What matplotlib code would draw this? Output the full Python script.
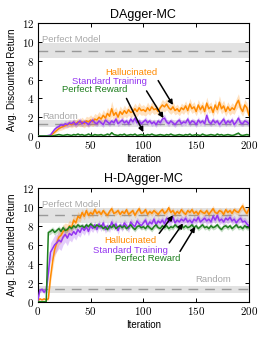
import numpy as np
import matplotlib
matplotlib.use("Agg")
import matplotlib.pyplot as plt
from matplotlib.ticker import FuncFormatter, MultipleLocator

plt.rcParams['font.family'] = ['Liberation Sans', 'DejaVu Sans']
plt.rcParams['mathtext.fontset'] = 'cm'

# iterations, sampled every 2
iters = np.arange(0, 201, 2)

# ---- DAgger-MC (top) ----
hal_top = [0, 0, 0, 0, 0, 0, 0.05, 0.2, 0.4, 0.6,
           0.8, 0.9, 1.0, 1.1, 1.2, 1.3, 1.2, 1.4, 1.3, 1.5,
           1.4, 1.5, 1.3, 1.6, 1.5, 1.7, 1.5, 1.8, 1.7, 2.0,
           1.8, 2.2, 1.9, 2.4, 2.1, 2.9, 2.2, 2.5, 2.0, 2.6,
           2.3, 2.7, 2.4, 2.8, 2.5, 2.6, 2.9, 2.6, 3.0, 2.7,
           2.8, 2.6, 3.0, 2.7, 3.1, 2.8, 2.9, 2.6, 3.0, 3.3,
           3.1, 3.4, 3.0, 2.8, 3.1, 2.7, 2.9, 2.6, 3.0, 2.8,
           3.2, 2.7, 3.4, 2.9, 3.1, 2.6, 3.3, 2.8, 3.2, 2.6,
           3.5, 2.9, 3.1, 2.5, 3.3, 2.8, 3.6, 2.9, 3.2, 2.6,
           3.1, 2.7, 3.0, 2.8, 3.4, 3.8, 3.0, 2.6, 3.3, 3.0,
           2.2]
hal_top_sd = [0, 0, 0, 0, 0, 0, 0.05, 0.1, 0.15, 0.2,
              0.25, 0.3, 0.3, 0.3, 0.35, 0.35, 0.35, 0.4, 0.4, 0.4,
              0.4, 0.5, 0.45, 0.5, 0.5, 0.55, 0.5, 0.6, 0.55, 0.6,
              0.5, 0.6, 0.55, 0.65, 0.6, 0.8, 0.6, 0.6, 0.55, 0.6,
              0.55, 0.6, 0.5, 0.6, 0.55, 0.5, 0.6, 0.55, 0.6, 0.5,
              0.55, 0.5, 0.6, 0.5, 0.55, 0.5, 0.5, 0.45, 0.5, 0.6,
              0.55, 0.6, 0.5, 0.5, 0.55, 0.45, 0.5, 0.45, 0.5, 0.5,
              0.55, 0.5, 0.6, 0.5, 0.55, 0.45, 0.6, 0.5, 0.55, 0.5,
              0.65, 0.5, 0.55, 0.45, 0.6, 0.5, 0.7, 0.55, 0.6, 0.5,
              0.55, 0.5, 0.55, 0.5, 0.6, 0.7, 0.55, 0.5, 0.6, 0.55,
              0.5]
std_top = [0, 0, 0, 0, 0, 0.05, 0.1, 0.4, 0.7, 0.9,
           1.0, 1.2, 1.1, 1.3, 1.2, 1.4, 1.3, 1.5, 1.2, 1.4,
           1.6, 1.3, 1.5, 1.4, 1.2, 1.5, 1.7, 1.4, 1.3, 1.6,
           1.4, 1.2, 1.7, 1.5, 1.3, 1.6, 1.4, 1.8, 1.3, 1.5,
           1.7, 1.4, 1.6, 1.3, 1.8, 1.5, 1.9, 1.4, 1.6, 1.3,
           1.5, 1.7, 1.4, 1.6, 1.3, 1.5, 1.2, 1.6, 1.4, 1.8,
           1.9, 1.5, 1.3, 1.6, 1.4, 1.2, 1.5, 1.7, 1.3, 1.5,
           1.4, 1.8, 1.3, 1.6, 1.5, 1.2, 1.7, 1.4, 1.6, 1.3,
           2.2, 1.5, 1.3, 1.7, 1.4, 1.6, 1.2, 1.5, 1.8, 1.3,
           1.6, 1.4, 1.7, 1.2, 1.5, 1.9, 1.4, 1.3, 1.6, 1.5,
           1.3]
std_top_sd = [0, 0, 0, 0, 0, 0.05, 0.1, 0.15, 0.2, 0.25,
              0.3, 0.3, 0.3, 0.35, 0.3, 0.35, 0.3, 0.35, 0.3, 0.3,
              0.35, 0.3, 0.3, 0.3, 0.3, 0.3, 0.35, 0.3, 0.3, 0.35,
              0.3, 0.3, 0.35, 0.3, 0.3, 0.3, 0.3, 0.35, 0.3, 0.3,
              0.35, 0.3, 0.3, 0.3, 0.35, 0.3, 0.4, 0.3, 0.3, 0.3,
              0.3, 0.35, 0.3, 0.3, 0.3, 0.3, 0.3, 0.3, 0.3, 0.35,
              0.4, 0.3, 0.3, 0.3, 0.3, 0.3, 0.3, 0.35, 0.3, 0.3,
              0.3, 0.35, 0.3, 0.3, 0.3, 0.3, 0.35, 0.3, 0.3, 0.3,
              0.45, 0.3, 0.3, 0.35, 0.3, 0.3, 0.3, 0.3, 0.35, 0.3,
              0.3, 0.3, 0.35, 0.3, 0.3, 0.4, 0.3, 0.3, 0.3, 0.3,
              0.3]
per_top = [0, 0, 0, 0, 0, 0, 0, 0, 0.05, 0.1,
           0.15, 0.1, 0.05, 0.1, 0.15, 0.1, 0.05, 0.15, 0.1, 0.2,
           0.1, 0.15, 0.05, 0.1, 0.2, 0.1, 0.05, 0.15, 0.1, 0.1,
           0.15, 0.05, 0.1, 0.2, 0.1, 0.35, 0.15, 0.1, 0.05, 0.15,
           0.1, 0.2, 0.05, 0.1, 0.15, 0.1, 0.2, 0.05, 0.1, 0.15,
           0.1, 0.05, 0.15, 0.1, 0.2, 0.1, 0.05, 0.1, 0.15, 0.1,
           0.05, 0.15, 0.1, 0.2, 0.1, 0.05, 0.1, 0.15, 0.1, 0.05,
           0.15, 0.1, 0.2, 0.05, 0.1, 0.15, 0.1, 0.05, 0.2, 0.1,
           0.05, 0.1, 0.15, 0.1, 0.05, 0.2, 0.1, 0.15, 0.05, 0.1,
           0.15, 0.1, 0.05, 0.1, 0.2, 0.3, 0.1, 0.05, 0.1, 0.15,
           0.1]
per_top_sd = [0, 0, 0, 0, 0, 0, 0, 0, 0.03, 0.05,
              0.08, 0.06, 0.05, 0.06, 0.08, 0.06, 0.05, 0.08, 0.06, 0.1,
              0.06, 0.08, 0.05, 0.06, 0.1, 0.06, 0.05, 0.08, 0.06, 0.06,
              0.08, 0.05, 0.06, 0.1, 0.06, 0.12, 0.08, 0.06, 0.05, 0.08,
              0.06, 0.1, 0.05, 0.06, 0.08, 0.06, 0.1, 0.05, 0.06, 0.08,
              0.06, 0.05, 0.08, 0.06, 0.1, 0.06, 0.05, 0.06, 0.08, 0.06,
              0.05, 0.08, 0.06, 0.1, 0.06, 0.05, 0.06, 0.08, 0.06, 0.05,
              0.08, 0.06, 0.1, 0.05, 0.06, 0.08, 0.06, 0.05, 0.1, 0.06,
              0.05, 0.06, 0.08, 0.06, 0.05, 0.1, 0.06, 0.08, 0.05, 0.06,
              0.08, 0.06, 0.05, 0.06, 0.1, 0.12, 0.06, 0.05, 0.06, 0.08,
              0.06]

# ---- H-DAgger-MC (bottom) ----
hal_bot = [0.1, 0.3, 0.2, 0.3, 0.2, 0.3, 2.5, 4.2, 5.5, 6.2,
           6.8, 7.0, 7.4, 7.6, 7.5, 8.0, 7.8, 8.6, 8.3, 9.0,
           8.8, 9.4, 9.0, 9.6, 9.1, 9.4, 9.2, 9.7, 9.3, 9.5,
           9.2, 9.6, 9.3, 9.1, 9.5, 9.8, 9.3, 9.4, 9.6, 9.2,
           9.5, 9.3, 9.7, 9.2, 9.4, 9.6, 9.1, 9.5, 9.8, 9.3,
           9.4, 9.7, 9.2, 9.5, 9.3, 9.6, 9.4, 9.2, 9.5, 9.7,
           9.3, 9.5, 9.9, 9.4, 9.6, 9.2, 9.5, 9.3, 9.7, 9.4,
           9.2, 9.6, 9.4, 9.7, 9.3, 9.5, 9.2, 9.6, 9.4, 9.3,
           9.6, 9.2, 9.5, 9.8, 9.4, 9.3, 9.6, 9.5, 9.2, 9.7,
           9.4, 9.6, 9.3, 9.7, 9.5, 9.4, 9.8, 10.1, 9.6, 9.3,
           9.8]
hal_bot_sd = [0.05, 0.1, 0.1, 0.1, 0.1, 0.15, 0.6, 0.8, 0.8, 0.8,
              0.8, 0.8, 0.7, 0.7, 0.7, 0.6, 0.6, 0.6, 0.5, 0.5,
              0.4, 0.4, 0.4, 0.4, 0.35, 0.35, 0.35, 0.35, 0.3, 0.3,
              0.3, 0.3, 0.3, 0.3, 0.3, 0.35, 0.3, 0.3, 0.3, 0.3,
              0.3, 0.3, 0.3, 0.3, 0.3, 0.3, 0.3, 0.3, 0.35, 0.3,
              0.3, 0.3, 0.3, 0.3, 0.3, 0.3, 0.3, 0.3, 0.3, 0.3,
              0.3, 0.3, 0.35, 0.3, 0.3, 0.3, 0.3, 0.3, 0.3, 0.3,
              0.3, 0.3, 0.3, 0.3, 0.3, 0.3, 0.3, 0.3, 0.3, 0.3,
              0.3, 0.3, 0.3, 0.35, 0.3, 0.3, 0.3, 0.3, 0.3, 0.3,
              0.3, 0.3, 0.3, 0.3, 0.3, 0.3, 0.35, 0.4, 0.3, 0.3,
              0.35]
std_bot = [0.1, 1.2, 1.3, 1.0, 1.3, 3.0, 5.2, 5.6, 6.0, 6.2,
           6.5, 6.3, 6.8, 7.1, 6.7, 7.2, 7.0, 7.4, 7.1, 7.6,
           7.3, 7.8, 7.5, 7.9, 7.4, 8.0, 7.7, 8.1, 7.6, 8.2,
           7.8, 8.3, 7.6, 8.0, 7.7, 8.4, 7.9, 8.2, 7.5, 8.1,
           7.8, 8.3, 8.0, 7.7, 8.4, 8.1, 7.9, 8.5, 8.2, 8.0,
           8.3, 8.6, 8.0, 8.4, 8.2, 8.7, 8.1, 8.5, 8.3, 8.6,
           8.2, 8.8, 8.4, 8.5, 8.9, 8.3, 8.6, 8.4, 8.7, 8.5,
           8.8, 8.4, 8.6, 8.3, 8.7, 8.5, 8.9, 8.4, 8.6, 8.8,
           8.5, 8.7, 8.4, 9.0, 8.6, 9.1, 8.5, 8.7, 8.4, 8.8,
           8.6, 8.9, 8.5, 8.7, 8.3, 8.6, 8.8, 8.4, 8.5, 8.2,
           8.0]
std_bot_sd = [0.05, 0.2, 0.2, 0.2, 0.2, 0.8, 1.0, 1.0, 1.0, 0.9,
              0.9, 0.9, 0.8, 0.8, 0.8, 0.7, 0.7, 0.6, 0.6, 0.6,
              0.5, 0.5, 0.5, 0.45, 0.45, 0.45, 0.4, 0.4, 0.4, 0.4,
              0.4, 0.4, 0.4, 0.4, 0.4, 0.4, 0.4, 0.4, 0.4, 0.4,
              0.4, 0.4, 0.4, 0.4, 0.4, 0.4, 0.4, 0.4, 0.4, 0.4,
              0.4, 0.4, 0.4, 0.4, 0.4, 0.4, 0.4, 0.4, 0.4, 0.4,
              0.4, 0.4, 0.4, 0.4, 0.4, 0.4, 0.4, 0.4, 0.4, 0.4,
              0.4, 0.4, 0.4, 0.4, 0.4, 0.4, 0.4, 0.4, 0.4, 0.4,
              0.4, 0.4, 0.4, 0.4, 0.4, 0.45, 0.4, 0.4, 0.4, 0.4,
              0.4, 0.4, 0.4, 0.4, 0.4, 0.4, 0.4, 0.4, 0.4, 0.4,
              0.4]
per_bot = [0, 0, 0, 0, 0, 7.3, 7.4, 7.6, 7.3, 7.5,
           7.7, 7.4, 7.8, 7.5, 7.6, 7.9, 7.7, 8.0, 7.8, 8.1,
           7.9, 8.0, 7.8, 8.1, 7.9, 8.2, 8.0, 7.8, 8.1, 7.9,
           8.0, 7.7, 7.9, 7.6, 8.0, 7.8, 8.1, 7.7, 7.9, 8.0,
           7.8, 8.0, 7.7, 7.9, 8.1, 7.8, 7.6, 7.9, 8.0, 7.8,
           7.9, 7.7, 8.0, 7.8, 7.6, 7.9, 8.1, 7.8, 7.7, 8.0,
           7.8, 8.0, 7.7, 7.9, 7.8, 8.1, 7.9, 7.7, 8.0, 7.8,
           8.0, 7.8, 7.9, 8.1, 7.8, 8.0, 7.7, 7.9, 8.1, 7.8,
           7.9, 7.7, 8.0, 7.8, 7.9, 8.1, 7.8, 7.6, 7.9, 8.0,
           7.8, 8.0, 7.7, 7.9, 8.1, 7.8, 7.9, 7.7, 8.0, 7.8,
           7.8]
per_bot_sd = [0, 0, 0, 0, 0, 0.3, 0.3, 0.3, 0.3, 0.3,
              0.3, 0.3, 0.3, 0.3, 0.25, 0.25, 0.25, 0.25, 0.25, 0.25,
              0.25, 0.25, 0.25, 0.25, 0.25, 0.25, 0.25, 0.25, 0.25, 0.25,
              0.25, 0.25, 0.25, 0.25, 0.25, 0.25, 0.25, 0.25, 0.25, 0.25,
              0.25, 0.25, 0.25, 0.25, 0.25, 0.25, 0.25, 0.25, 0.25, 0.25,
              0.25, 0.25, 0.25, 0.25, 0.25, 0.25, 0.25, 0.25, 0.25, 0.25,
              0.25, 0.25, 0.25, 0.25, 0.25, 0.25, 0.25, 0.25, 0.25, 0.25,
              0.25, 0.25, 0.25, 0.25, 0.25, 0.25, 0.25, 0.25, 0.25, 0.25,
              0.25, 0.25, 0.25, 0.25, 0.25, 0.25, 0.25, 0.25, 0.25, 0.25,
              0.25, 0.25, 0.25, 0.25, 0.25, 0.25, 0.25, 0.25, 0.25, 0.25,
              0.25]

# reference levels (mean, half-width of band)
perfect_model = (9.1, 0.8)
random_policy = (1.3, 0.4)

ORANGE = '#ff8a00'
PURPLE = '#9435f0'
GREEN = '#1f7f1f'
GRAYTXT = '#a8a8a8'


def draw_panel(ax, title, series, labels, random_label_pos):
    for level, half in (perfect_model, random_policy):
        ax.axhspan(level - half, level + half, color='#e2e2e2', lw=0, zorder=0)
        ax.axhline(level, color='#999999', lw=1.0, dashes=(7, 5), zorder=1)
    for mean, sd, col in series:
        m = np.array(mean)
        s = np.array(sd)
        ax.fill_between(iters, m - s, m + s, color=col, alpha=0.25, lw=0, zorder=2)
        ax.plot(iters, m, color=col, lw=1.1, zorder=3)
    ax.text(4, 10.25, 'Perfect Model', color=GRAYTXT, fontsize=6.8, va='center', ha='left')
    ax.text(*random_label_pos[0], 'Random', color=GRAYTXT, fontsize=6.8, va='center',
            ha=random_label_pos[1])
    for txt, col, tpos, a_start, a_end in labels:
        ax.text(*tpos, txt, color=col, fontsize=6.8, ha='center', va='center', zorder=5)
        ax.annotate('', xy=a_end, xytext=a_start, zorder=6,
                    arrowprops=dict(arrowstyle='-|>', color='k', lw=1.1,
                                    mutation_scale=7, shrinkA=0, shrinkB=0))
    ax.set_xlim(0, 200)
    ax.set_ylim(0, 12)
    ax.xaxis.set_major_locator(MultipleLocator(50))
    ax.yaxis.set_major_locator(MultipleLocator(2))
    fmt = FuncFormatter(lambda v, p: f'${v:g}$')
    ax.xaxis.set_major_formatter(fmt)
    ax.yaxis.set_major_formatter(fmt)
    ax.tick_params(direction='in', top=True, right=True, length=3, width=0.7,
                   labelsize=8, pad=2.5)
    for sp in ax.spines.values():
        sp.set_linewidth(0.8)
    ax.set_title(title, fontsize=9, pad=4)
    ax.set_xlabel('Iteration', fontsize=7, labelpad=2)
    ax.set_ylabel('Avg. Discounted Return', fontsize=7, labelpad=3)


fig = plt.figure(figsize=(2.66, 3.39), dpi=100)
ax1 = fig.add_axes([0.142, 0.599, 0.794, 0.332])
ax2 = fig.add_axes([0.142, 0.110, 0.794, 0.336])

draw_panel(ax1, 'DAgger-MC',
           [(hal_top, hal_top_sd, ORANGE), (std_top, std_top_sd, PURPLE),
            (per_top, per_top_sd, GREEN)],
           [('Hallucinated', ORANGE, (89, 6.8), (114, 5.9), (128, 3.3)),
            ('Standard Training', PURPLE, (68, 5.8), (103, 4.8), (119, 1.9)),
            ('Perfect Reward', GREEN, (54, 4.9), (84, 4.0), (100, 0.4))],
           ((4, 2.1), 'left'))

draw_panel(ax2, 'H-DAgger-MC',
           [(hal_bot, hal_bot_sd, ORANGE), (std_bot, std_bot_sd, PURPLE),
            (per_bot, per_bot_sd, GREEN)],
           [('Hallucinated', ORANGE, (88, 6.4), (115, 7.2), (128, 9.1)),
            ('Standard Training', PURPLE, (88, 5.4), (124.5, 6.2), (137.5, 8.25)),
            ('Perfect Reward', GREEN, (104, 4.5), (134.7, 5.3), (149, 7.9))],
           ((183, 2.3), 'right'))

fig.savefig('out.png', dpi=100)
